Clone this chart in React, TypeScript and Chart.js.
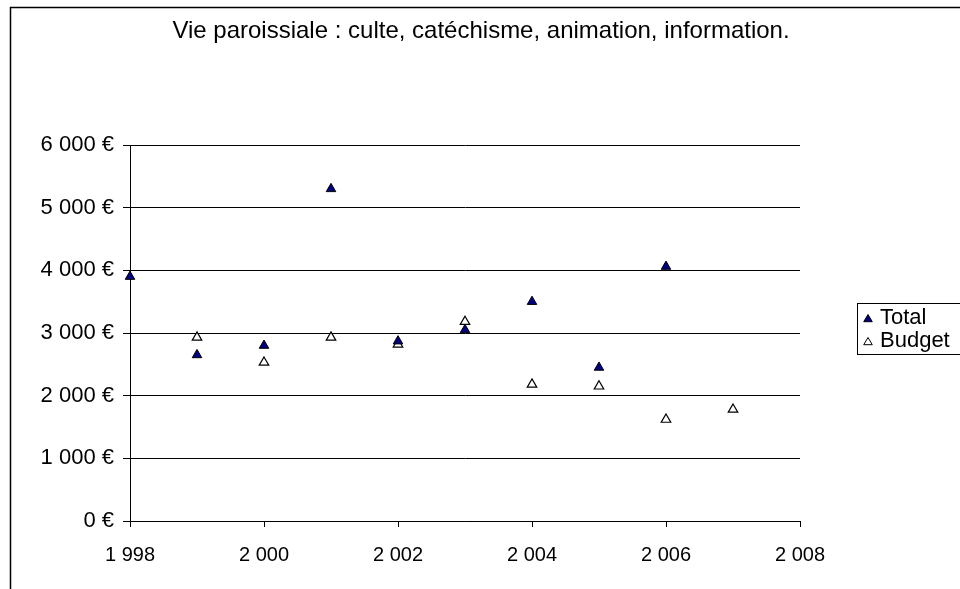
import React, { useEffect, useRef } from "react";
import { Chart, registerables } from "chart.js";

Chart.register(...registerables);

const TITLE = "Vie paroissiale : culte, catéchisme, animation, information.";
const years = [1998, 1999, 2000, 2001, 2002, 2003, 2004, 2005, 2006, 2007];
const totalValues: (number | null)[] = [3900, 2650, 2800, 5300, 2870, 3050, 3500, 2450, 4060, null];
const budgetValues: (number | null)[] = [null, 2930, 2530, 2930, 2820, 3180, 2180, 2150, 1620, 1780];
const seriesLabels = ["Total", "Budget"];
const xMin = 1998, xMax = 2008, xStep = 2;
const yMin = 0, yMax = 6000, yStep = 1000;

const FONT = "'Liberation Sans', Arial, sans-serif";

function groupThousands(n: number, sep = " "): string {
  const s = String(Math.round(n));
  return s.replace(/\B(?=(\d{3})+(?!\d))/g, sep);
}

const framePlugin = {
  id: "frame",
  afterDraw(chart: any) {
    const ctx = chart.ctx;
    ctx.save();
    // outer border
    ctx.strokeStyle = "#000";
    ctx.lineWidth = 1.5;
    ctx.strokeRect(10.5, 7.5, 1200, 1200);
    // title
    ctx.fillStyle = "#000";
    ctx.font = `24px ${FONT}`;
    ctx.textAlign = "center";
    ctx.textBaseline = "middle";
    ctx.fillText(TITLE, 481, 31);
    // legend
    ctx.lineWidth = 1;
    ctx.strokeStyle = "#000";
    ctx.strokeRect(857.5, 303.5, 200, 51);
    ctx.font = `22px ${FONT}`;
    ctx.textAlign = "left";
    const ds = chart.data.datasets;
    const rows = [318, 341];
    ds.forEach((d: any, i: number) => {
      const y = rows[i];
      const r = 4.5;
      ctx.fillStyle = d.pointBackgroundColor;
      ctx.strokeStyle = "#000";
      ctx.lineWidth = 1;
      ctx.beginPath();
      ctx.moveTo(868, y + 1 - r);
      ctx.lineTo(868 + r * 0.95, y + 1 + r * 0.6);
      ctx.lineTo(868 - r * 0.95, y + 1 + r * 0.6);
      ctx.closePath();
      ctx.fill();
      ctx.stroke();
      ctx.fillStyle = "#000";
      ctx.textBaseline = "middle";
      ctx.fillText(d.label, 880, y);
    });
    ctx.restore();
  },
};

export default function App() {
  const ref = useRef<HTMLCanvasElement>(null);
  useEffect(() => {
    if (!ref.current) return;
    const toPts = (vals: (number | null)[]) =>
      years
        .map((x, i) => (vals[i] == null ? null : { x, y: vals[i] as number }))
        .filter((p) => p !== null) as { x: number; y: number }[];
    const chart = new Chart(ref.current, {
      type: "scatter",
      data: {
        datasets: [
          {
            label: seriesLabels[0],
            data: toPts(totalValues),
            pointStyle: "triangle",
            pointRadius: 5.5,
            pointBackgroundColor: "#000080",
            pointBorderColor: "#000",
            pointBorderWidth: 1,
            clip: false as any,
          },
          {
            label: seriesLabels[1],
            data: toPts(budgetValues),
            pointStyle: "triangle",
            pointRadius: 5.5,
            pointBackgroundColor: "#ffffff",
            pointBorderColor: "#000",
            pointBorderWidth: 1.2,
            clip: false as any,
          },
        ],
      },
      options: {
        responsive: false,
        animation: false,
        layout: { padding: { left: 0, top: 145, right: 160, bottom: 0 } },
        plugins: {
          legend: { display: false },
          title: { display: false },
          tooltip: { enabled: false },
        },
        scales: {
          x: {
            type: "linear",
            min: xMin,
            max: xMax,
            afterFit: (s: any) => { s.height = 68; },
            ticks: {
              stepSize: xStep,
              color: "#000",
              font: { family: FONT, size: 20 },
              padding: 16,
              maxRotation: 0,
              callback: (v: any) => groupThousands(Number(v)),
            },
            grid: { drawOnChartArea: false, drawTicks: true, tickLength: 6, color: "#000" },
            border: { display: true, color: "#000", width: 1 },
          },
          y: {
            type: "linear",
            min: yMin,
            max: yMax,
            afterFit: (s: any) => { s.width = 130; },
            ticks: {
              stepSize: yStep,
              color: "#000",
              font: { family: FONT, size: 22 },
              padding: 9,
              callback: (v: any) => `${groupThousands(Number(v))} €`,
            },
            grid: { drawOnChartArea: true, drawTicks: true, tickLength: 7, color: "#000" },
            border: { display: true, color: "#000", width: 1 },
          },
        },
      },
      plugins: [framePlugin],
    });
    return () => chart.destroy();
  }, []);
  return (
    <div style={{ position: "absolute", left: 0, top: 0, width: 960, height: 589, background: "#fff" }}>
      <canvas ref={ref} width={960} height={589} />
    </div>
  );
}
